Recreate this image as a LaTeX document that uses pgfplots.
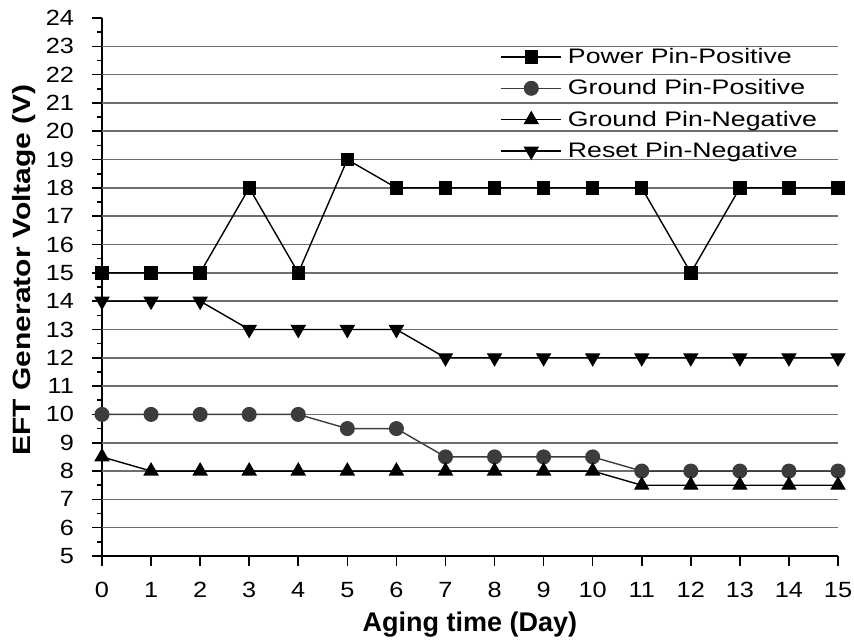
\documentclass[border=0pt]{standalone}
\usepackage{fontspec}
\setmainfont{Liberation Sans}
\newfontfamily\tickfont[FakeStretch=1.15]{Liberation Sans}
\newfontfamily\legfont[FakeStretch=1.27]{Liberation Sans}
\newfontfamily\ylabfont[FakeStretch=1.2]{Liberation Sans}
\usepackage{pgfplots}
\pgfplotsset{compat=1.18}
\definecolor{gridgray}{RGB}{110,110,110}
\definecolor{dotgray}{RGB}{60,60,60}
\begin{document}
\begin{tikzpicture}
\begin{axis}[
    scale only axis,
    width=368pt, height=269pt,
    xmin=0, xmax=15, ymin=5, ymax=24,
    axis lines*=left,
    axis line style={line width=1pt},
    xtick={0,...,15}, ytick={5,...,24},
    minor y tick num=1,
    tick align=outside,
    major tick length=5pt, minor tick length=2.5pt,
    tick style={line width=0.8pt, black},
    extra y ticks={6,...,23}, extra y tick labels={},
    extra y tick style={grid=major, major tick length=0pt},
    major grid style={gridgray, line width=0.8pt},
    /pgf/number format/assume math mode=true,
    ticklabel style={font=\tickfont\fontsize{11}{12}\selectfont},
    xticklabel style={yshift=-4.5pt},
    yticklabel style={xshift=-5.5pt},
    xlabel={\textbf{Aging time (Day)}},
    ylabel={\ylabfont\bfseries EFT Generator Voltage (V)},
    xlabel style={font=\fontsize{13.5}{15}\selectfont, at={(axis description cs:0.5,0)}, anchor=base, yshift=-37.5pt},
    ylabel style={font=\fontsize{12.5}{14}\selectfont, at={(axis description cs:-0.106,0.532)}, anchor=center, rotate=0},
    legend style={draw=none, fill=none, at={(rel axis cs:0.541,0.9576)}, anchor=north west,
        inner sep=0pt, column sep=3pt,
        font=\legfont\fontsize{10.5}{12}\selectfont, row sep=0pt,
        nodes={inner sep=0pt, text height=11pt, text depth=4.7pt}},
    legend cell align=left,
    legend image code/.code={
        \draw[mark repeat=2, mark phase=2] plot coordinates {(0pt,0pt) (15pt,0pt) (30pt,0pt)};},
    every axis plot/.append style={line width=0.7pt},
]
\coordinate (SW) at (rel axis cs:0,0);
\coordinate (NE) at (rel axis cs:1,1);
\addplot[black, mark=square*, mark size=3pt] coordinates {
(0,15) (1,15) (2,15) (3,18) (4,15) (5,19) (6,18) (7,18) (8,18) (9,18)
(10,18) (11,18) (12,15) (13,18) (14,18) (15,18)};
\addplot[dotgray, mark=*, mark size=3.4pt, mark options={fill=dotgray}] coordinates {
(0,10) (1,10) (2,10) (3,10) (4,10) (5,9.5) (6,9.5) (7,8.5) (8,8.5) (9,8.5)
(10,8.5) (11,8) (12,8) (13,8) (14,8) (15,8)};
\addplot[black, mark=triangle*, mark size=3.8pt] coordinates {
(0,8.5) (1,8) (2,8) (3,8) (4,8) (5,8) (6,8) (7,8) (8,8) (9,8)
(10,8) (11,7.5) (12,7.5) (13,7.5) (14,7.5) (15,7.5)};
\addplot[black, mark=triangle*, mark size=3.8pt, mark options={rotate=180}] coordinates {
(0,14) (1,14) (2,14) (3,13) (4,13) (5,13) (6,13) (7,12) (8,12) (9,12)
(10,12) (11,12) (12,12) (13,12) (14,12) (15,12)};
\legend{Power Pin-Positive, Ground Pin-Positive, Ground Pin-Negative, Reset Pin-Negative}
\end{axis}
\pgfresetboundingbox
\path ([xshift=-51pt,yshift=-42.5pt]SW) rectangle ([xshift=8pt,yshift=9pt]NE);
\end{tikzpicture}
\end{document}
